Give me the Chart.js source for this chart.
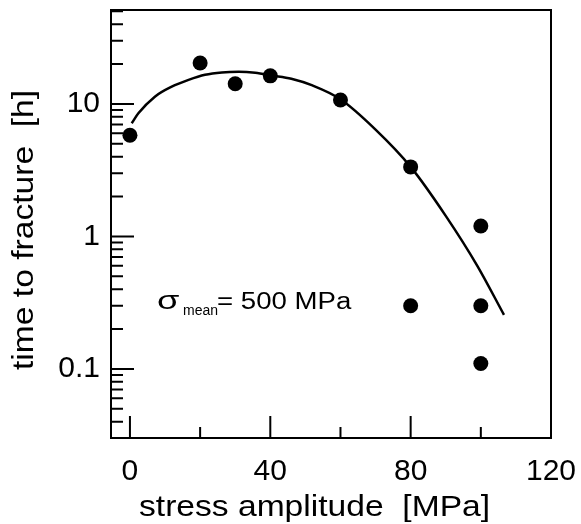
<!DOCTYPE html>
<html>
<head>
<meta charset="utf-8">
<script src="https://cdn.jsdelivr.net/npm/chart.js@4.4.0/dist/chart.umd.min.js"></script>
<style>
    html, body { margin: 0; padding: 0; background: #fff; }
    #wrap { width: 581px; height: 524px; }
</style>
</head>
<body>
<div id="wrap"><canvas id="chart"></canvas></div>
<script>
// measured points
const stressPoints = [0, 20, 30, 40, 60, 80, 80, 100, 100, 100];
const timePoints = [5.8, 20.4, 14.2, 16.3, 10.7, 3.35, 0.3, 1.2, 0.3, 0.11];

// fitted curve
const curveStress = [0.5, 2.4, 7.1, 11.9, 16.7, 21.4, 26.2, 31, 35.7, 40.5, 46, 52, 60, 70, 80, 90, 99, 106.6];
const curveTime = [7.15, 8.5, 11.35, 13.5, 15.2, 16.6, 17.3, 17.5, 17.2, 16.4, 15.5, 13.8, 10.85, 6.4, 3.35, 1.43, 0.6, 0.256];

// axis ticks
const xMajor = [0, 40, 80, 120];
const xMinor = [20, 60, 100];
const yMajor = [0.1, 1, 10];
const yMinor = [0.04, 0.05, 0.06, 0.07, 0.08, 0.09,
    0.2, 0.3, 0.4, 0.5, 0.6, 0.7, 0.8, 0.9,
    2, 3, 4, 5, 6, 7, 8, 9,
    20, 30, 40, 50];

const FONT = '"Liberation Sans", Arial, sans-serif';

function stretchText(ctx, text, x, y, size, sx, angle) {
    ctx.save();
    ctx.font = size + 'px ' + FONT;
    ctx.translate(x, y);
    if (angle) ctx.rotate(angle);
    ctx.scale(sx, 1);
    ctx.fillText(text, 0, 0);
    ctx.restore();
}

// no extra room for overhanging tick labels, the layout padding does it
function noPadding(s) {
    s.paddingLeft = 0;
    s.paddingRight = 0;
    s.paddingTop = 0;
    s.paddingBottom = 0;
}

const framePlugin = {
    id: 'frame',
    afterDraw(chart) {
        const { ctx, chartArea: a, scales: { x, y } } = chart;
        ctx.save();
        ctx.strokeStyle = '#000';
        ctx.lineWidth = 2;
        ctx.strokeRect(a.left, a.top, a.right - a.left, a.bottom - a.top);

        // inward ticks
        ctx.beginPath();
        xMajor.forEach(v => {
            const px = x.getPixelForValue(v);
            ctx.moveTo(px, a.bottom);
            ctx.lineTo(px, a.bottom - 22);
        });
        xMinor.forEach(v => {
            const px = x.getPixelForValue(v);
            ctx.moveTo(px, a.bottom);
            ctx.lineTo(px, a.bottom - 11);
        });
        yMajor.forEach(v => {
            const py = y.getPixelForValue(v);
            ctx.moveTo(a.left, py);
            ctx.lineTo(a.left + 23, py);
        });
        yMinor.forEach(v => {
            const py = y.getPixelForValue(v);
            ctx.moveTo(a.left, py);
            ctx.lineTo(a.left + 12, py);
        });
        ctx.stroke();

        // axis titles
        ctx.fillStyle = '#000';
        ctx.textBaseline = 'alphabetic';
        ctx.textAlign = 'left';
        stretchText(ctx, 'stress amplitude  [MPa]', 139, 516, 30, 1.12);
        stretchText(ctx, 'time to fracture  [h]', 33, 370, 30, 1.12, -Math.PI / 2);

        // annotation
        stretchText(ctx, 'σ', 157, 309, 25, 1.45);
        stretchText(ctx, 'mean', 183, 315, 14, 1.0);
        stretchText(ctx, '= 500 MPa', 217, 309, 23, 1.2);
        ctx.restore();
    }
};

new Chart(document.getElementById('chart'), {
    data: {
        datasets: [
            {
                type: 'line',
                data: curveStress.map((s, i) => ({ x: s, y: curveTime[i] })),
                borderColor: '#000',
                borderWidth: 2.5,
                pointRadius: 0,
                cubicInterpolationMode: 'monotone',
                fill: false
            },
            {
                type: 'scatter',
                data: stressPoints.map((s, i) => ({ x: s, y: timePoints[i] })),
                backgroundColor: '#000',
                borderWidth: 0,
                pointRadius: 7.5
            }
        ]
    },
    options: {
        responsive: true,
        maintainAspectRatio: false,
        animation: false,
        layout: { padding: { top: 10, right: 30, left: 0, bottom: 0 } },
        plugins: {
            legend: { display: false },
            tooltip: { enabled: false }
        },
        scales: {
            x: {
                type: 'linear',
                min: -5.4,
                max: 120,
                grid: { display: false, drawTicks: false },
                border: { display: false },
                afterBuildTicks: s => { s.ticks = xMajor.map(v => ({ value: v })); },
                afterFit: s => { s.height = 86; noPadding(s); },
                ticks: {
                    autoSkip: false,
                    maxRotation: 0,
                    padding: 16,
                    color: '#000',
                    font: { family: FONT, size: 30 },
                    callback: v => String(v)
                }
            },
            y: {
                type: 'logarithmic',
                min: 0.0301,
                max: 51.2,
                grid: { display: false, drawTicks: false },
                border: { display: false },
                afterBuildTicks: s => { s.ticks = yMajor.map(v => ({ value: v })); },
                afterFit: s => { s.width = 111; noPadding(s); },
                ticks: {
                    autoSkip: false,
                    padding: 11,
                    color: '#000',
                    font: { family: FONT, size: 30 },
                    callback: v => String(v)
                }
            }
        }
    },
    plugins: [framePlugin]
});
</script>
</body>
</html>
